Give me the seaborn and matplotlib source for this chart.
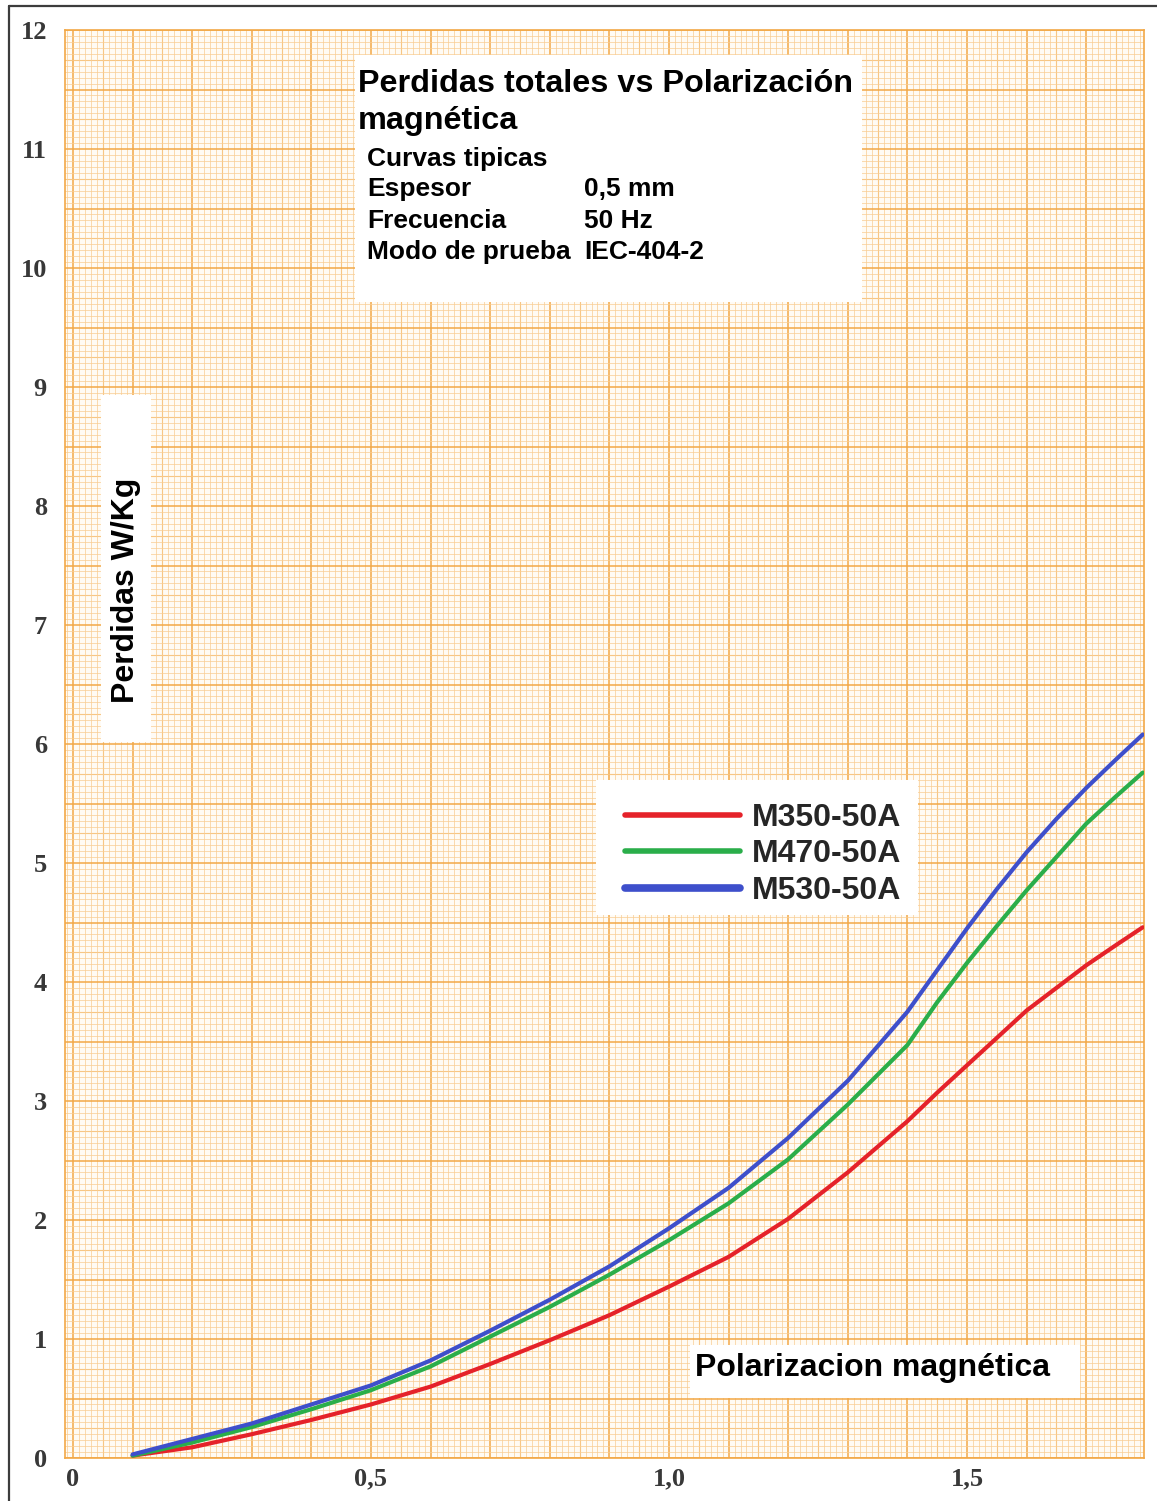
import numpy as np
import pandas as pd
import seaborn as sns
import matplotlib.pyplot as plt
from matplotlib.lines import Line2D
from matplotlib.patches import Rectangle

# Polarización magnética (T) and total losses (W/kg) for each steel grade
polarizacion = [0.1, 0.2, 0.3, 0.4, 0.5, 0.6, 0.7, 0.8, 0.9, 1.0,
                1.1, 1.2, 1.3, 1.4, 1.45, 1.5, 1.55, 1.6, 1.65, 1.7, 1.75, 1.795]
m350_50a = [0.02, 0.09, 0.20, 0.32, 0.45, 0.60, 0.79, 0.99, 1.20, 1.44,
            1.69, 2.01, 2.40, 2.83, 3.07, 3.30, 3.53, 3.76, 3.95, 4.14, 4.31, 4.46]
m470_50a = [0.02, 0.13, 0.26, 0.41, 0.57, 0.77, 1.02, 1.27, 1.54, 1.83,
            2.14, 2.51, 2.97, 3.47, 3.83, 4.16, 4.47, 4.77, 5.05, 5.33, 5.56, 5.76]
m530_50a = [0.03, 0.16, 0.29, 0.45, 0.61, 0.82, 1.07, 1.33, 1.61, 1.93,
            2.27, 2.69, 3.17, 3.75, 4.10, 4.45, 4.78, 5.09, 5.37, 5.63, 5.87, 6.08]

grados = ["M350-50A", "M470-50A", "M530-50A"]
colores = ["#E5222A", "#2AAE4A", "#3E4FCB"]

x_labels = {0.0: "0", 0.5: "0,5", 1.0: "1,0", 1.5: "1,5"}

df = pd.DataFrame({
    "B": polarizacion * 3,
    "P": m350_50a + m470_50a + m530_50a,
    "grado": sum([[g] * len(polarizacion) for g in grados], []),
})

sns.set_theme(style="white")
plt.rcParams["font.family"] = ["Liberation Sans", "DejaVu Sans"]

W, H = 1157, 1501
fig = plt.figure(figsize=(W / 100, H / 100), dpi=100)
fig.patch.set_facecolor("white")

# axes area in pixels: left 65, right 1144, top 30, bottom 1458
AX_L, AX_R, AX_T, AX_B = 65, 1144, 30, 1458
ax = fig.add_axes([AX_L / W, (H - AX_B) / H, (AX_R - AX_L) / W, (AX_B - AX_T) / H])
ax.set_facecolor("#FFFBF4")


def axc(px, py):
    """pixel position -> axes fraction"""
    return (px - AX_L) / (AX_R - AX_L), (AX_B - py) / (AX_B - AX_T)


ax.set_xlim(-0.0134, 1.797)
ax.set_ylim(0, 12)

# graph paper: minor, medium and major rulings
minor_c, mid_c, major_c = "#F9CD92", "#F5B865", "#F2A847"
ax.set_xticks(np.round(np.arange(0, 1.8, 0.1), 2))
ax.set_yticks(np.arange(0, 12.01, 0.5))
ax.set_xticks(np.arange(-0.01, 1.8, 0.01), minor=True)
ax.set_yticks(np.arange(0, 12.01, 0.05), minor=True)
ax.grid(which="minor", color=minor_c, linewidth=0.5, zorder=0)
ax.grid(which="major", color=major_c, linewidth=1.1, zorder=0)
for xv in np.arange(0.05, 1.8, 0.1):
    ax.axvline(xv, color=mid_c, linewidth=0.8, zorder=0)
for yv in np.arange(0.25, 12, 0.5):
    ax.axhline(yv, color=mid_c, linewidth=0.8, zorder=0)
ax.set_axisbelow(True)

for s in ax.spines.values():
    s.set_color(major_c)
    s.set_linewidth(1.2)

tick_font = dict(family=["Liberation Serif", "DejaVu Serif"], weight="bold", size=19)
ax.set_xticklabels([x_labels.get(round(v, 2), "") for v in ax.get_xticks()], **tick_font)
ax.set_yticklabels([str(int(v)) if v == int(v) else "" for v in ax.get_yticks()], **tick_font)
ax.tick_params(axis="both", which="major", color=major_c, width=1.2, length=5,
               labelcolor="#383838")
ax.tick_params(axis="x", which="major", pad=2)
ax.tick_params(axis="y", which="major", pad=8)
ax.tick_params(which="minor", length=0)

# loss curves
sns.lineplot(data=df, x="B", y="P", hue="grado", palette=colores,
             estimator=None, sort=False, linewidth=3.0, ax=ax, zorder=4)
for ln in ax.lines:
    ln.set_solid_joinstyle("round")
ax.lines[-1].set_linewidth(3.3)
ax.set_xlabel("")
ax.set_ylabel("")


# white label panels
def panel(px0, py0, px1, py1):
    xa, ya = axc(px0, py1)
    xb, yb = axc(px1, py0)
    ax.add_patch(Rectangle((xa, ya), xb - xa, yb - ya, transform=ax.transAxes,
                           facecolor="white", edgecolor="none", zorder=2))


def label(px, py, s, size, **kw):
    xa, ya = axc(px, py)
    ax.text(xa, ya, s, transform=ax.transAxes, fontsize=size, fontweight="bold",
            color="black", zorder=5, **kw)


panel(355, 55, 862, 302)
label(358, 92, "Perdidas totales vs Polarización", 23.3, va="baseline")
label(358, 129, "magnética", 23.3, va="baseline")
rows = [("Curvas tipicas", "", 166), ("Espesor", "0,5 mm", 196),
        ("Frecuencia", "50 Hz", 228), ("Modo de prueba", "IEC-404-2", 259)]
for left, right, yb in rows:
    label(367, yb, left, 19, va="baseline")
    if right:
        label(584, yb, right, 19, va="baseline")

panel(101, 395, 151, 742)
label(126, 590, "Perdidas W/Kg", 23, rotation=90, va="center", ha="center")

panel(690, 1345, 1080, 1398)
label(695, 1368, "Polarizacion magnética", 23, va="center")

# legend on its own white panel
panel(596, 780, 918, 915)
lx, ly = axc(625, 803)
leg = ax.legend(loc="upper left", bbox_to_anchor=(lx, ly), fontsize=23,
                frameon=False, handlelength=3.6, handletextpad=0.38,
                borderpad=0, labelspacing=0.2, borderaxespad=0)
for t in leg.get_texts():
    t.set_fontweight("bold")
for ln, lw in zip(leg.get_lines(), [4.0, 4.0, 5.5]):
    ln.set_linewidth(lw)
    ln.set_solid_capstyle("round")
leg.set_zorder(6)

# page frame (top and left edges)
fig.add_artist(Line2D([9 / W, 1], [1 - 6 / H, 1 - 6 / H], color="#3c3c3c",
                      linewidth=1.6, transform=fig.transFigure))
fig.add_artist(Line2D([9 / W, 9 / W], [0, 1 - 6 / H], color="#3c3c3c",
                      linewidth=1.6, transform=fig.transFigure))

fig.savefig("out.png", dpi=100)
